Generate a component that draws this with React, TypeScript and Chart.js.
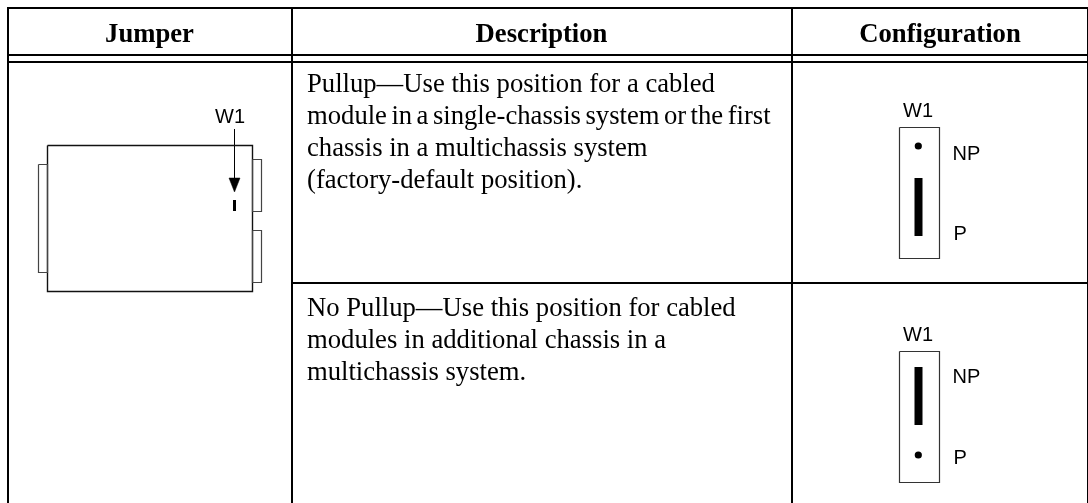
import React, { useEffect, useRef } from "react";
import { Chart, registerables } from "chart.js";

Chart.register(...registerables);

const CANVAS_W = 1088;
const CANVAS_H = 503;

// Table rules: [x1, y1, x2, y2]
const tableRules = [
  [7, 8, 1088, 8],
  [7, 55, 1088, 55],
  [7, 62, 1088, 62],
  [292, 283, 1088, 283],
  [8, 8, 8, 503],
  [292, 8, 292, 503],
  [792, 8, 792, 503],
  [1088, 8, 1088, 503],
];

// Rectangles: [left, top, right, bottom]
const boardRect = [47.5, 145.5, 252.5, 291.5];
const tabRects = [
  [38.5, 164.5, 47.5, 272.5],
  [252.5, 159.5, 261.5, 211.5],
  [252.5, 230.5, 261.5, 282.5],
];
const configRects = [
  [899.5, 127.5, 939.5, 258.5],
  [899.5, 351.5, 939.5, 482.5],
];

// Jumper bars: [x, y1, y2]
const jumperBars = [
  [918.5, 178, 236],
  [918.5, 367, 425],
];
const boardBar = [234.5, 200, 211];
const arrowShaft = [234.5, 129, 178];
const arrowHead = [
  [229, 178],
  [240, 178],
  [234.5, 192],
  [229, 178],
];
const jumperDots = [
  [918.3, 146],
  [918.3, 455],
];

const headerLabels = [
  { text: "Jumper", x: 149.5, y: 42 },
  { text: "Description", x: 541.5, y: 42 },
  { text: "Configuration", x: 940, y: 42 },
];
const bodyLines = [
  { text: "Pullup—Use this position for a cabled", x: 307, y: 92 },
  { text: "module in a single-chassis system or the first", x: 307, y: 124, tight: -2.2 },
  { text: "chassis in a multichassis system", x: 307, y: 156 },
  { text: "(factory-default position).", x: 307, y: 188 },
  { text: "No Pullup—Use this position for cabled", x: 307, y: 316 },
  { text: "modules in additional chassis in a", x: 307, y: 348 },
  { text: "multichassis system.", x: 307, y: 380 },
];
const diagramLabels = [
  { text: "W1", x: 215, y: 123 },
  { text: "W1", x: 903, y: 117 },
  { text: "NP", x: 952.5, y: 160 },
  { text: "P", x: 953.5, y: 240 },
  { text: "W1", x: 903, y: 341 },
  { text: "NP", x: 952.5, y: 383 },
  { text: "P", x: 953.5, y: 464 },
];

const seg = (pts: number[][], color: string, width: number, extra: object = {}) => ({
  data: pts.map(([x, y]) => ({ x, y })),
  showLine: true,
  borderColor: color,
  backgroundColor: color,
  borderWidth: width,
  pointRadius: 0,
  tension: 0,
  ...extra,
});

const rectPts = ([l, t, r, b]: number[]) => [
  [l, t],
  [r, t],
  [r, b],
  [l, b],
  [l, t],
];

const textPlugin = {
  id: "tableText",
  afterDatasetsDraw(chart: any) {
    const { ctx, scales } = chart;
    const px = (v: number) => scales.x.getPixelForValue(v);
    const py = (v: number) => scales.y.getPixelForValue(v);
    ctx.save();
    ctx.fillStyle = "#000";
    ctx.textBaseline = "alphabetic";
    ctx.font = 'bold 26.67px "Liberation Serif"';
    ctx.textAlign = "center";
    headerLabels.forEach((l) => ctx.fillText(l.text, px(l.x), py(l.y)));
    ctx.textAlign = "left";
    ctx.font = '26.67px "Liberation Serif"';
    bodyLines.forEach((l) => {
      ctx.wordSpacing = `${l.tight ?? 0}px`;
      ctx.fillText(l.text, px(l.x), py(l.y));
    });
    ctx.wordSpacing = "0px";
    ctx.font = '20px "Liberation Sans"';
    diagramLabels.forEach((l) => ctx.fillText(l.text, px(l.x), py(l.y)));
    ctx.restore();
  },
};

export default function App() {
  const ref = useRef<HTMLCanvasElement>(null);
  useEffect(() => {
    const chart = new Chart(ref.current!, {
      type: "scatter",
      data: {
        datasets: [
          ...tableRules.map(([a, b, c, d]) =>
            seg([[a, b], [c, d]], "#000", 2)
          ),
          ...tabRects.map((r) => seg(rectPts(r), "#444", 1.2)),
          seg(rectPts(boardRect), "#111", 1.4),
          ...configRects.map((r) => seg(rectPts(r), "#333", 1.2)),
          ...jumperBars.map(([x, a, b]) =>
            seg([[x, a], [x, b]], "#000", 8, { borderCapStyle: "butt" })
          ),
          seg([[boardBar[0], boardBar[1]], [boardBar[0], boardBar[2]]], "#000", 3),
          seg([[arrowShaft[0], arrowShaft[1]], [arrowShaft[0], arrowShaft[2]]], "#000", 1),
          seg(arrowHead, "#000", 0.5, { fill: "shape" }),
          {
            data: jumperDots.map(([x, y]) => ({ x, y })),
            showLine: false,
            pointRadius: 3.6,
            pointBackgroundColor: "#000",
            pointBorderWidth: 0,
          },
        ],
      },
      options: {
        animation: false,
        responsive: false,
        layout: { padding: 0, autoPadding: false },
        clip: false,
        plugins: { legend: { display: false }, tooltip: { enabled: false } },
        scales: {
          x: { type: "linear", display: false, min: 0, max: CANVAS_W },
          y: { type: "linear", display: false, min: 0, max: CANVAS_H, reverse: true },
        },
      },
      plugins: [textPlugin],
    } as any);
    return () => chart.destroy();
  }, []);
  return (
    <div style={{ position: "fixed", left: 0, top: 0, width: CANVAS_W, height: CANVAS_H, background: "#fff" }}>
      <canvas ref={ref} width={CANVAS_W} height={CANVAS_H} style={{ display: "block" }} />
    </div>
  );
}
